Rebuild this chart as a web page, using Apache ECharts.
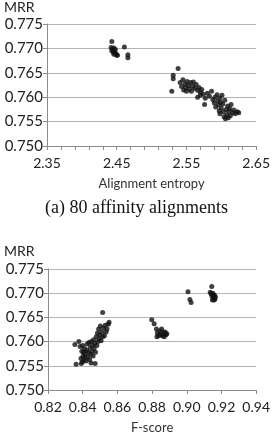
<!DOCTYPE html>
<html>
<head>
<meta charset="utf-8">
<script src="https://cdn.jsdelivr.net/npm/echarts@6/dist/echarts.min.js"></script>
<style>
  html, body { margin: 0; padding: 0; background: #fff; }
  #chart { width: 273px; height: 445px; }
</style>
</head>
<body>
<div id="chart"></div>
<script>
// (a) alignment entropy vs MRR
const entropyTop = [
  2.443, 2.442, 2.444, 2.446, 2.448, 2.443, 2.445, 2.447, 2.449, 2.451, 2.446, 2.450, 2.461, 2.466, 2.466,
  2.538, 2.531, 2.531, 2.529,
  2.541, 2.543, 2.545, 2.546, 2.548, 2.549, 2.550, 2.551, 2.553, 2.554, 2.556, 2.557, 2.559, 2.560, 2.562, 2.564, 2.566, 2.568, 2.570, 2.572,
  2.566, 2.570, 2.574, 2.577, 2.580, 2.583, 2.576, 2.586,
  2.588, 2.590, 2.591, 2.592, 2.594, 2.595, 2.596, 2.597, 2.598, 2.598, 2.599, 2.600, 2.601, 2.602, 2.603, 2.604,
  2.605, 2.606, 2.607, 2.608, 2.609, 2.610, 2.611, 2.612, 2.613, 2.614, 2.616, 2.618, 2.620, 2.623, 2.625
]
const mrrTop = [
  0.7714, 0.7702, 0.7699, 0.7701, 0.7698, 0.7695, 0.7692, 0.7693, 0.7689, 0.7686, 0.7688, 0.7686, 0.7703, 0.7687, 0.7681,
  0.7659, 0.7645, 0.7638, 0.7612,
  0.7630, 0.7622, 0.7636, 0.7615, 0.7627, 0.7620, 0.7612, 0.7632, 0.7624, 0.7617, 0.7630, 0.7612, 0.7622, 0.7631, 0.7618, 0.7626, 0.7614, 0.7620, 0.7610, 0.7616,
  0.7600, 0.7604, 0.7606, 0.7598, 0.7608, 0.7602, 0.7585, 0.7612,
  0.7595, 0.7588, 0.7600, 0.7580, 0.7605, 0.7592, 0.7584, 0.7572, 0.7598, 0.7566, 0.7589, 0.7578, 0.7604, 0.7586, 0.7570, 0.7560,
  0.7594, 0.7556, 0.7575, 0.7564, 0.7582, 0.7558, 0.7571, 0.7577, 0.7562, 0.7585, 0.7568, 0.7574, 0.7566, 0.7570, 0.7568
]

// F-score vs MRR
const fscore = [
  0.9144, 0.9135, 0.9140, 0.9150, 0.9155, 0.9145, 0.9160, 0.9152, 0.9162, 0.9148, 0.9158, 0.9165, 0.9007, 0.9018, 0.9025,
  0.8798, 0.8812, 0.8825, 0.8830, 0.8838, 0.8845, 0.8850, 0.8855, 0.8860, 0.8865, 0.8870, 0.8875, 0.8880, 0.8885, 0.8828,
  0.8515, 0.8355, 0.8378, 0.8362, 0.8392, 0.8472, 0.8448,
  0.8385, 0.8390, 0.8395, 0.8398, 0.8400, 0.8402, 0.8405, 0.8408, 0.8410, 0.8413, 0.8416, 0.8420, 0.8423, 0.8426, 0.8430,
  0.8433, 0.8436, 0.8440, 0.8443, 0.8446, 0.8450, 0.8453, 0.8456, 0.8460, 0.8463, 0.8466, 0.8470, 0.8474, 0.8478, 0.8482,
  0.8485, 0.8488, 0.8492, 0.8495, 0.8498, 0.8502, 0.8506, 0.8510, 0.8515, 0.8520, 0.8525, 0.8530, 0.8535, 0.8540, 0.8548, 0.8552
]
const mrrBottom = [
  0.7714, 0.7702, 0.7699, 0.7700, 0.7697, 0.7694, 0.7695, 0.7690, 0.7688, 0.7686, 0.7686, 0.7692, 0.7703, 0.7687, 0.7681,
  0.7645, 0.7637, 0.7626, 0.7618, 0.7612, 0.7622, 0.7615, 0.7626, 0.7612, 0.7619, 0.7610, 0.7620, 0.7614, 0.7616, 0.7610,
  0.7660, 0.7594, 0.7600, 0.7553, 0.7555, 0.7555, 0.7556,
  0.7590, 0.7565, 0.7580, 0.7558, 0.7592, 0.7570, 0.7578, 0.7562, 0.7586, 0.7568, 0.7575, 0.7560, 0.7582, 0.7595, 0.7568,
  0.7578, 0.7598, 0.7563, 0.7588, 0.7574, 0.7600, 0.7580, 0.7592, 0.7570, 0.7604, 0.7586, 0.7596, 0.7578, 0.7610, 0.7592,
  0.7618, 0.7600, 0.7626, 0.7606, 0.7614, 0.7632, 0.7602, 0.7620, 0.7610, 0.7628, 0.7612, 0.7634, 0.7620, 0.7626, 0.7636, 0.7640
]

const font = 'Lato, "Liberation Sans", sans-serif'
const gridColor = '#b4b4b4'
const axisColor = '#8c8c8c'

function yAxis (gridIndex) {
  return {
    gridIndex: gridIndex,
    type: 'value',
    min: 0.750,
    max: 0.775,
    interval: 0.005,
    axisLine: { show: true, lineStyle: { color: axisColor } },
    axisTick: { show: true, length: 4, lineStyle: { color: axisColor } },
    splitLine: { show: true, lineStyle: { color: gridColor, width: 1 } },
    axisLabel: {
      color: '#222', fontSize: 15, fontFamily: font, margin: 4,
      formatter: v => v.toFixed(3)
    }
  }
}

function xAxis (gridIndex, min, max, interval, minorSplit, name) {
  return {
    gridIndex: gridIndex,
    type: 'value',
    min: min,
    max: max,
    interval: interval,
    name: name,
    nameLocation: 'middle',
    nameGap: 31,
    nameTextStyle: { color: '#333', fontSize: 13, fontFamily: font },
    axisLine: { show: true, onZero: false, lineStyle: { color: axisColor } },
    axisTick: { show: true, length: 4, lineStyle: { color: axisColor } },
    minorTick: { show: minorSplit > 1, splitNumber: minorSplit, length: 4, lineStyle: { color: axisColor } },
    splitLine: { show: false },
    axisLabel: {
      color: '#222', fontSize: 14, fontFamily: font, margin: 10,
      showMaxLabel: true,
      formatter: v => v.toFixed(2)
    }
  }
}

let myChart = echarts.init(document.getElementById('chart'), null, { renderer: 'canvas' })
let option = {
  animation: false,
  backgroundColor: '#fff',
  grid: [
    { left: 47, top: 24, width: 217, height: 122 },
    { left: 48, top: 269, width: 216, height: 121 }
  ],
  xAxis: [
    xAxis(0, 2.35, 2.65, 0.1, 5, 'Alignment entropy'),
    xAxis(1, 0.82, 0.94, 0.02, 0, 'F-score')
  ],
  yAxis: [yAxis(0), yAxis(1)],
  graphic: [
    { type: 'text', left: 4, top: 0, style: { text: 'MRR', fill: '#222', font: '14px ' + font } },
    { type: 'text', left: 4, top: 244, style: { text: 'MRR', fill: '#222', font: '14px ' + font } },
    {
      type: 'text', left: 'center', top: 199,
      style: { text: '(a) 80 affinity alignments', fill: '#111', font: '18px "Liberation Serif", "DejaVu Serif", serif' }
    }
  ],
  series: [
    {
      type: 'scatter',
      xAxisIndex: 0,
      yAxisIndex: 0,
      symbolSize: 5,
      itemStyle: { color: '#111' },
      data: entropyTop.map((x, i) => [x, mrrTop[i]])
    },
    {
      type: 'scatter',
      xAxisIndex: 1,
      yAxisIndex: 1,
      symbolSize: 5,
      itemStyle: { color: '#111' },
      data: fscore.map((x, i) => [x, mrrBottom[i]])
    }
  ]
}
myChart.setOption(option)
window.addEventListener('resize', function () {
  myChart.resize()
})
</script>
</body>
</html>
